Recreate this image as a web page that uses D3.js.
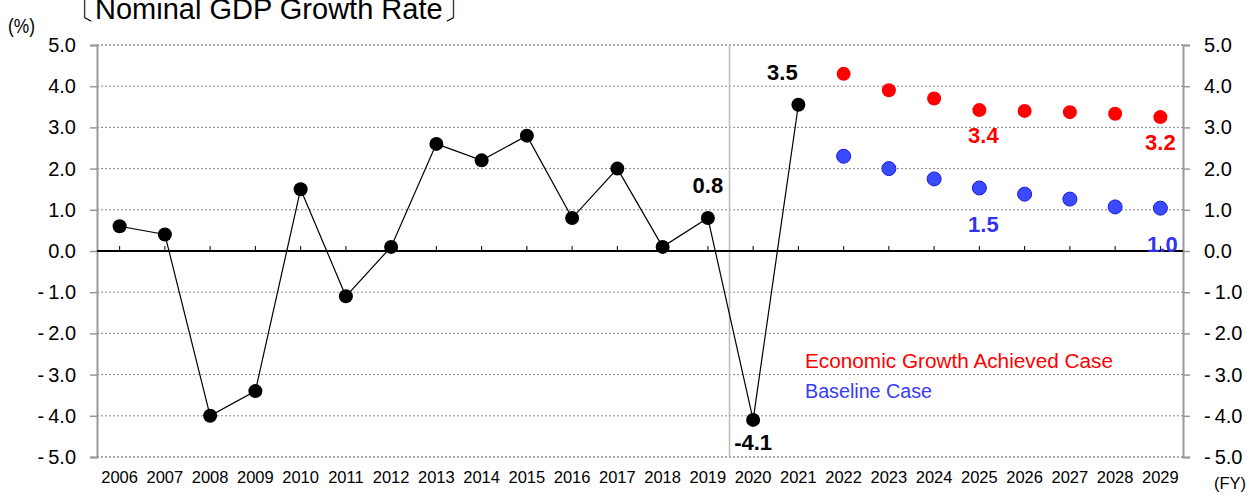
<!DOCTYPE html>
<html>
<head>
<meta charset="utf-8">
<script src="https://cdn.jsdelivr.net/npm/d3@7"></script>
<style>
  body { margin: 0; background: #fff; }
  svg { display: block; font-family: "Liberation Sans", Arial, sans-serif; }
</style>
</head>
<body>
<div id="chart"></div>
<script>
// fiscal years on the x axis
const years = d3.range(2006, 2030).map(String);

// actual nominal GDP growth, FY2006-FY2021
const actualYears = years.slice(0, 16);
const actualValues = [0.6, 0.4, -4.0, -3.4, 1.5, -1.1, 0.1, 2.6, 2.2, 2.8, 0.8, 2.0, 0.1, 0.8, -4.1, 3.55];

// projections, FY2022-FY2029
const projYears = years.slice(16);
const growthCase = [4.3, 3.9, 3.7, 3.42, 3.4, 3.37, 3.33, 3.25];
const baselineCase = [2.3, 2.0, 1.75, 1.53, 1.38, 1.26, 1.07, 1.04];

const yTicks = [5, 4, 3, 2, 1, 0, -1, -2, -3, -4, -5];

// labelled points: [year, value, text, colour]
const callouts = [
  ["2021", 3.55, "3.5", "#000"],
  ["2019", 0.8, "0.8", "#000"],
  ["2020", -4.1, "-4.1", "#000"],
  ["2025", 3.42, "3.4", "#ff0000"],
  ["2029", 3.25, "3.2", "#ff0000"],
  ["2025", 1.53, "1.5", "#3333ee"],
  ["2029", 1.04, "1.0", "#3333ee"]
];

const width = 1258, height = 494;
const margin = { left: 97, right: 75, top: 45, bottom: 37 };

const svg = d3.select("#chart").append("svg")
    .attr("width", width)
    .attr("height", height);

const x = d3.scaleBand()
    .domain(years)
    .range([margin.left, width - margin.right]);

const y = d3.scaleLinear()
    .domain([-5, 5])
    .range([height - margin.bottom, margin.top]);

const cx = d => x(d) + x.bandwidth() / 2;

// dotted gridlines
svg.append("g")
  .selectAll("line")
  .data(yTicks.filter(d => d !== 0))
  .join("line")
    .attr("x1", margin.left)
    .attr("x2", width - margin.right)
    .attr("y1", d => y(d))
    .attr("y2", d => y(d))
    .attr("stroke", d => Math.abs(d) === 5 ? "#555" : "#888")
    .attr("stroke-width", 1)
    .attr("stroke-dasharray", "2,2");

// divider between actual and projected years
const divX = x("2020") - 1;
svg.append("line")
    .attr("x1", divX).attr("x2", divX)
    .attr("y1", y(5)).attr("y2", y(-5))
    .attr("stroke", "#bbb")
    .attr("stroke-width", 1.5);

const fmt = d => d < 0 ? "-\u2009" + d3.format(".1f")(-d) : d3.format(".1f")(d);

// left axis
const yLeft = svg.append("g")
    .attr("transform", `translate(${margin.left},0)`)
    .call(d3.axisLeft(y).tickValues(yTicks).tickSize(7).tickPadding(14).tickFormat(fmt));

// right axis
const yRight = svg.append("g")
    .attr("transform", `translate(${width - margin.right},0)`)
    .call(d3.axisRight(y).tickValues(yTicks).tickSize(7).tickPadding(14).tickFormat(fmt));

[yLeft, yRight].forEach(g => {
  g.select(".domain").attr("stroke", "#999").attr("stroke-width", 2);
  g.selectAll(".tick line").attr("stroke", "#999").attr("stroke-width", 1.5);
  g.selectAll(".tick text")
    .attr("fill", "#000")
    .attr("font-size", 20)
    .attr("font-family", "'Liberation Sans', Arial, sans-serif");
});

// zero line with small ticks at each year
svg.append("line")
    .attr("x1", margin.left)
    .attr("x2", width - margin.right)
    .attr("y1", y(0)).attr("y2", y(0))
    .attr("stroke", "#000")
    .attr("stroke-width", 2);

svg.append("g")
  .selectAll("line")
  .data(years)
  .join("line")
    .attr("x1", d => cx(d)).attr("x2", d => cx(d))
    .attr("y1", y(0) - 5).attr("y2", y(0))
    .attr("stroke", "#000")
    .attr("stroke-width", 1);

// year labels
svg.append("g")
  .selectAll("text")
  .data(years)
  .join("text")
    .attr("x", d => cx(d))
    .attr("y", height - 11)
    .attr("text-anchor", "middle")
    .attr("font-size", 16.5)
    .attr("fill", "#000")
    .text(d => d);

// actual series
const actual = actualYears.map((d, i) => ({ year: d, value: actualValues[i] }));

svg.append("path")
    .datum(actual)
    .attr("fill", "none")
    .attr("stroke", "#000")
    .attr("stroke-width", 1.2)
    .attr("d", d3.line().x(d => cx(d.year)).y(d => y(d.value)));

svg.append("g")
  .selectAll("circle")
  .data(actual)
  .join("circle")
    .attr("cx", d => cx(d.year))
    .attr("cy", d => y(d.value))
    .attr("r", 7)
    .attr("fill", "#000");

// projections
svg.append("g")
  .selectAll("circle")
  .data(projYears.map((d, i) => ({ year: d, value: growthCase[i] })))
  .join("circle")
    .attr("cx", d => cx(d.year))
    .attr("cy", d => y(d.value))
    .attr("r", 7)
    .attr("fill", "#ff0000");

svg.append("g")
  .selectAll("circle")
  .data(projYears.map((d, i) => ({ year: d, value: baselineCase[i] })))
  .join("circle")
    .attr("cx", d => cx(d.year))
    .attr("cy", d => y(d.value))
    .attr("r", 7)
    .attr("fill", "#3a4bff")
    .attr("stroke", "#1a1ae0")
    .attr("stroke-width", 1);

// value callouts
const offsets = { "3.5": [-16, -25], "0.8": [0, -25], "-4.1": [0, 30], "3.4": [4, 33], "3.2": [0, 33], "1.5": [4, 44], "1.0": [2, 44] };
svg.append("g")
  .selectAll("text")
  .data(callouts)
  .join("text")
    .attr("x", d => cx(d[0]) + offsets[d[2]][0])
    .attr("y", d => y(d[1]) + offsets[d[2]][1])
    .attr("text-anchor", "middle")
    .attr("font-size", 22)
    .attr("font-weight", "bold")
    .attr("fill", d => d[3])
    .text(d => d[2]);

// legend
svg.append("text")
    .attr("x", 805).attr("y", 368)
    .attr("font-size", 20)
    .attr("fill", "#ff0000")
    .attr("textLength", 308)
    .attr("lengthAdjust", "spacingAndGlyphs")
    .text("Economic Growth Achieved Case");

svg.append("text")
    .attr("x", 805).attr("y", 398)
    .attr("font-size", 20)
    .attr("fill", "#3a3aff")
    .attr("textLength", 127)
    .attr("lengthAdjust", "spacingAndGlyphs")
    .text("Baseline Case");

// title, unit, FY
svg.append("text")
    .attr("x", 66).attr("y", 19)
    .attr("font-size", 29)
    .attr("fill", "#000")
    .text("\u3014Nominal GDP Growth Rate\u3015");

svg.append("text")
    .attr("x", 8).attr("y", 33)
    .attr("font-size", 21)
    .attr("fill", "#000")
    .attr("textLength", 27)
    .attr("lengthAdjust", "spacingAndGlyphs")
    .text("(%)");

svg.append("text")
    .attr("x", 1214).attr("y", 489)
    .attr("font-size", 16.5)
    .attr("fill", "#000")
    .text("(FY)");
</script>
</body>
</html>
